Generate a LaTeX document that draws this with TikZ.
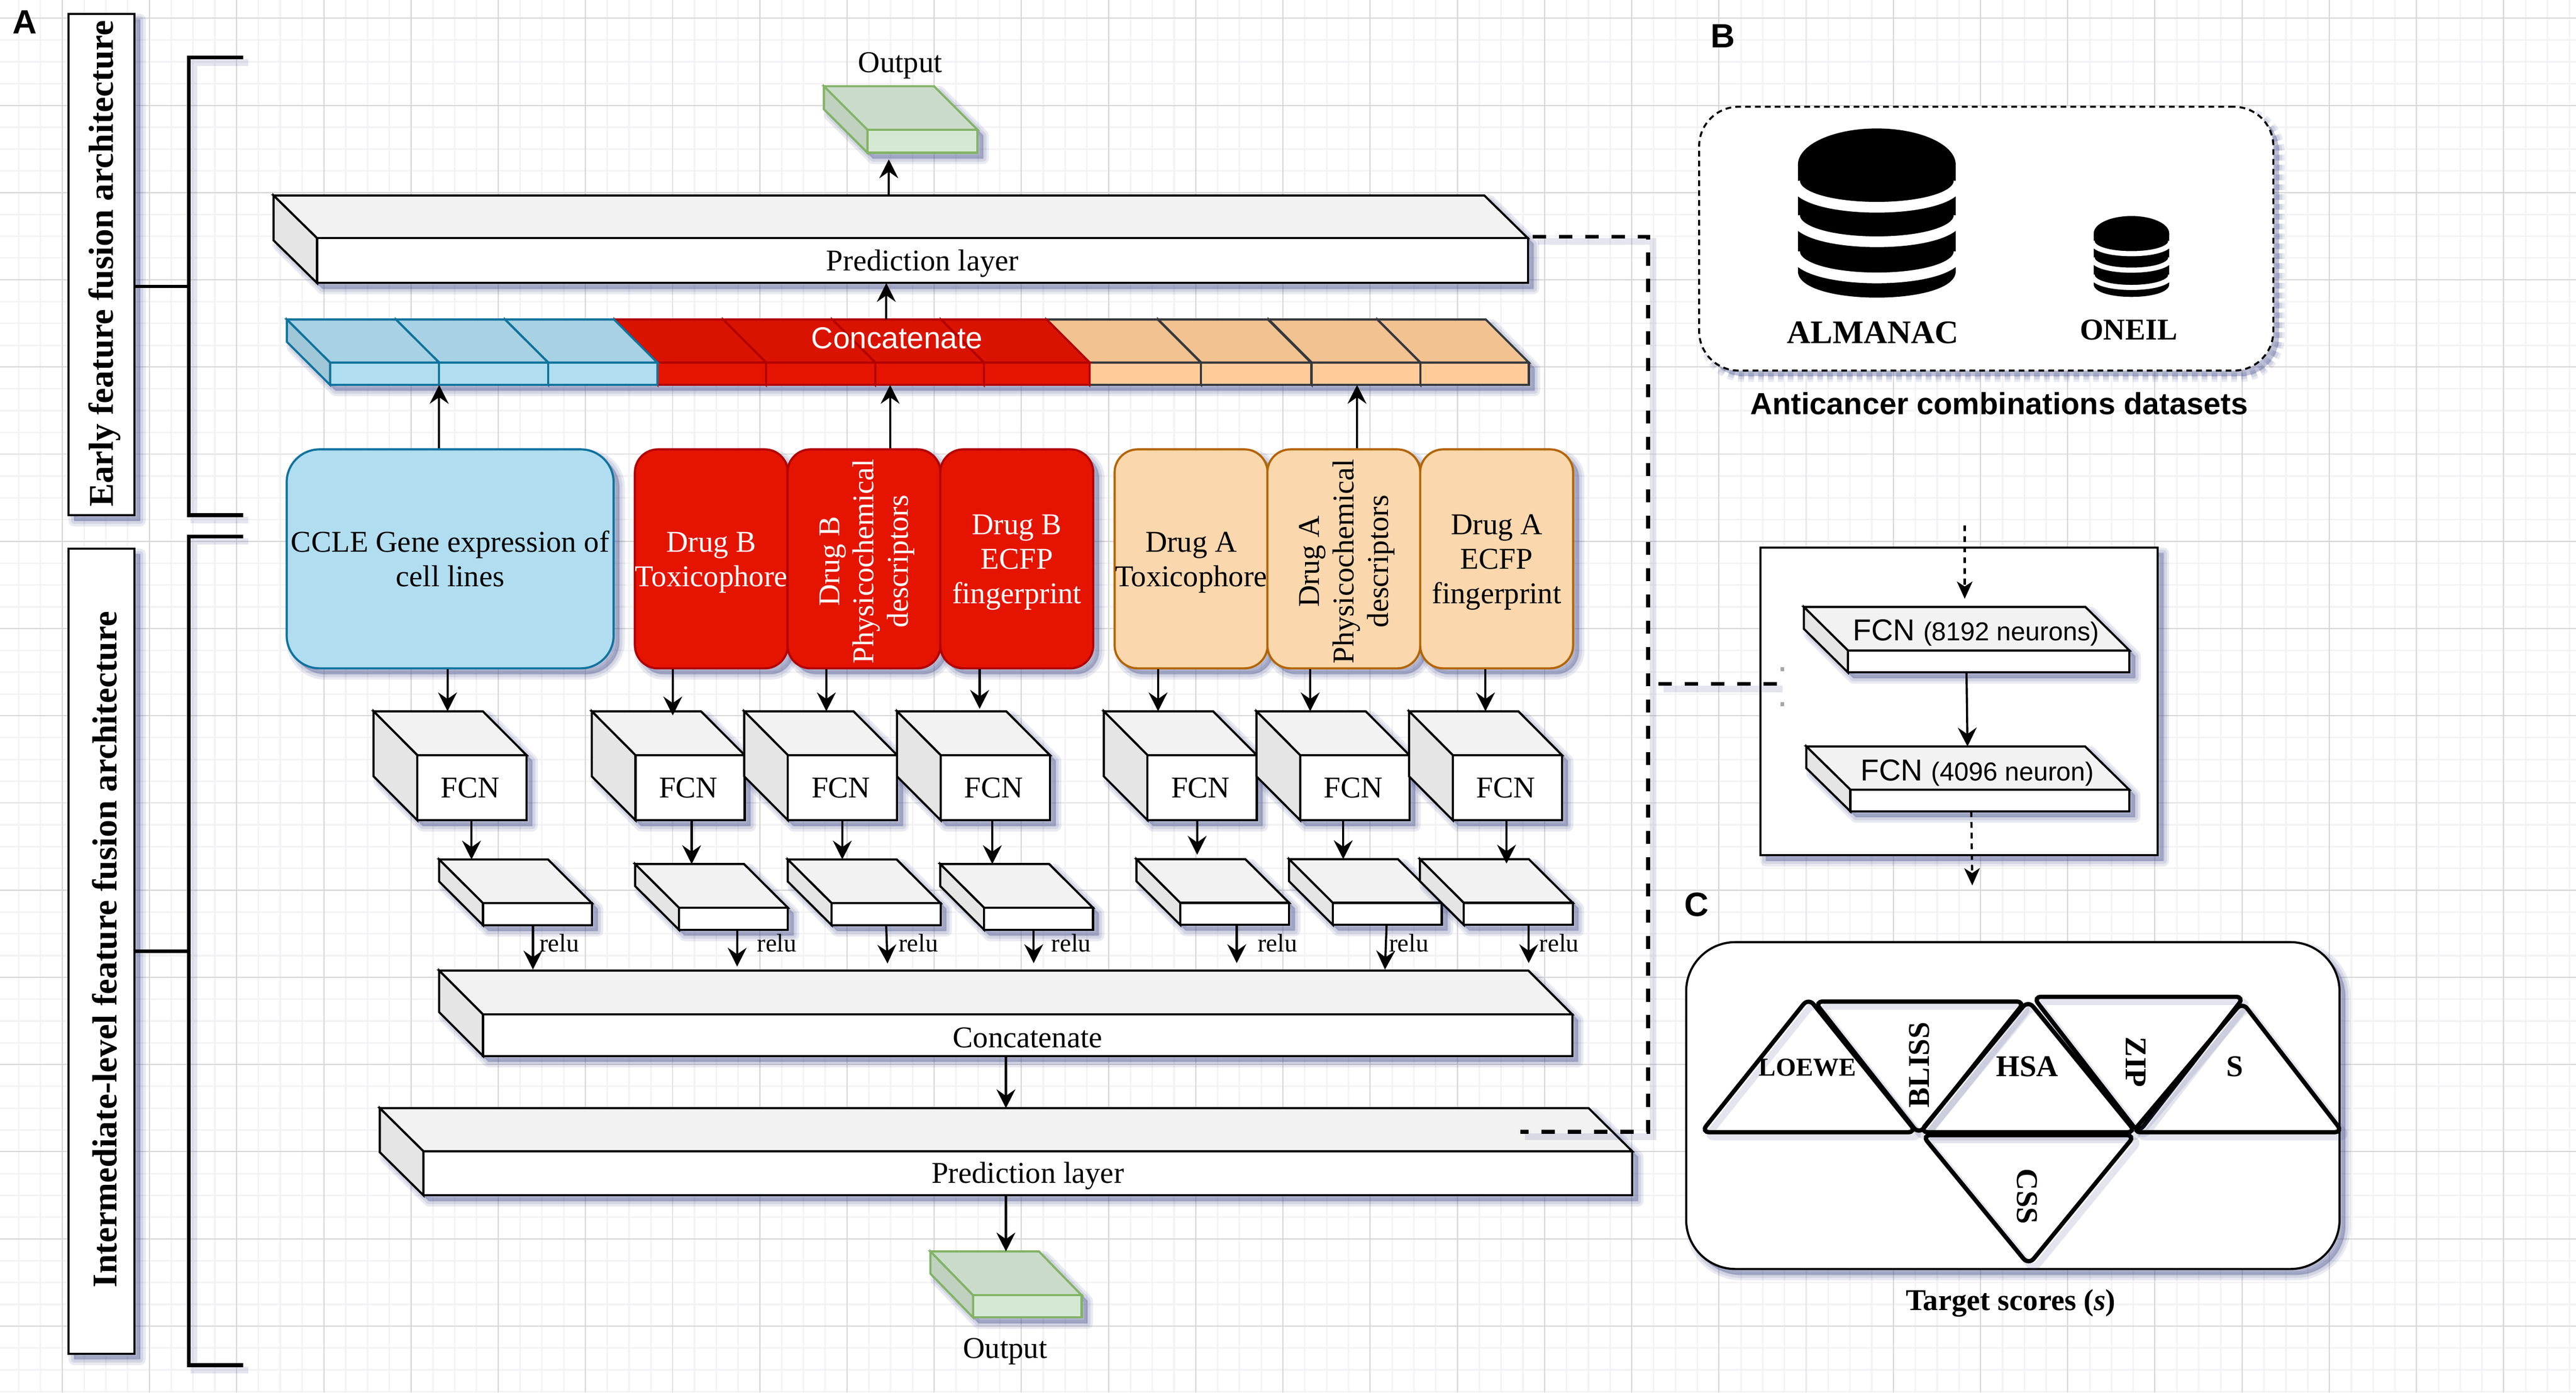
\documentclass[tikz,border=0pt]{standalone}
\usepackage{fontspec}
\setmainfont{Liberation Serif}
\setsansfont{Liberation Sans}
\usetikzlibrary{arrows.meta}

\definecolor{shadowcol}{rgb}{0.33,0.36,0.58}
\definecolor{gridmajor}{HTML}{D6D6D6}
\definecolor{gridminor}{HTML}{F3F3F5}
\definecolor{plainF}{HTML}{FFFFFF}
\definecolor{plainD}{HTML}{000000}
\definecolor{cellF}{HTML}{B1DDF0}
\definecolor{cellD}{HTML}{10739E}
\definecolor{drugbF}{HTML}{E51400}
\definecolor{drugbD}{HTML}{B20000}
\definecolor{drugaF}{HTML}{FAD7AC}
\definecolor{drugaD}{HTML}{B46504}
\definecolor{concF}{HTML}{FFCC99}
\definecolor{concD}{HTML}{36393D}
\definecolor{outF}{HTML}{D5E8D4}
\definecolor{outD}{HTML}{82B366}

\tikzset{
  softshadow/.style={
    preaction={draw=shadowcol,fill=shadowcol,line width=7pt,line join=round,opacity=.13,transform canvas={shift={(3.4pt,-3.4pt)}}},
    preaction={draw=shadowcol,fill=shadowcol,line width=4pt,line join=round,opacity=.15,transform canvas={shift={(3.4pt,-3.4pt)}}},
    preaction={draw=shadowcol,fill=shadowcol,line width=1pt,line join=round,opacity=.17,transform canvas={shift={(3.4pt,-3.4pt)}}}},
  lineshadow/.style={
    preaction={draw=shadowcol,line width=4pt,opacity=.16,transform canvas={shift={(3pt,-3pt)}}}},
  cubeface/.style={rectangle,inner sep=0pt,outer sep=0pt,line width=1.3pt},
  arr/.style={-{Stealth[length=11.5pt,width=11.5pt,inset=4pt]},line width=1.3pt},
  dasharr/.style={-{Stealth[length=10.5pt,width=9.5pt,inset=3pt]},line width=1.3pt,dash pattern=on 3.5pt off 3pt},
  linkdash/.style={line width=2.3pt,dash pattern=on 8pt off 8pt,lineshadow},
  bracket/.style={line width=2.3pt,line join=miter,lineshadow},
  sidebox/.style={rectangle,draw=black,fill=white,line width=1.3pt,inner sep=0pt,minimum width=40pt,softshadow},
  blockbox/.style={rectangle,rounded corners=14pt,line width=1.3pt,minimum width=93.1pt,minimum height=133.3pt,inner sep=0pt,align=center,softshadow},
  cellblock/.style={blockbox,fill=cellF,draw=cellD,rounded corners=20pt,minimum width=199pt},
  drugbblock/.style={blockbox,fill=drugbF,draw=drugbD,text=white},
  drugablock/.style={blockbox,fill=drugaF,draw=drugaD},
  panelbox/.style={rectangle,fill=white,draw=black,line width=1.3pt,inner sep=0pt,softshadow},
  triangle/.style={draw=black,line width=2.6pt,rounded corners=5pt,lineshadow},
  panelmark/.style={font=\sffamily\bfseries\fontsize{20.5}{24}\selectfont},
}

% x, y, w, h, dx, dy
\newcommand{\cubeshadow}[6]{
  \path[softshadow] (#1,#2) -- (#1+#3-#5,#2) -- (#1+#3,#2+#6) -- (#1+#3,#2+#4) -- (#1+#5,#2+#4) -- (#1,#2+#4-#6) -- cycle;
}
% [colour]{name}{x}{y}{w}{h}{dx}{dy}{text}
\newcommand{\cubefaces}[9][plain]{
  \draw[line width=1.3pt,draw=#1D,fill=black!5!#1F] (#3,#4) -- (#3+#5-#7,#4) -- (#3+#5,#4+#8) -- (#3+#7,#4+#8) -- cycle;
  \draw[line width=1.3pt,draw=#1D,fill=black!10!#1F] (#3,#4) -- (#3+#7,#4+#8) -- (#3+#7,#4+#6) -- (#3,#4+#6-#8) -- cycle;
  \node[cubeface,draw=#1D,fill=#1F,minimum width=#5-#7,minimum height=#6-#8] (#2) at (#3+0.5*#5+0.5*#7,#4+0.5*#6+0.5*#8) {#9};
  \coordinate (#2-t) at (#3+0.5*#5,#4);
}
\newcommand{\cubebox}[9][plain]{
  \cubeshadow{#3}{#4}{#5}{#6}{#7}{#8}
  \cubefaces[#1]{#2}{#3}{#4}{#5}{#6}{#7}{#8}{#9}
}
% cx, top, scale
\newcommand{\dbstack}[3]{
  \begin{scope}[shift={(#1,#2)},x=#3pt,y=-#3pt]
    \fill[black] (-48,22) -- (-48,87) .. controls (-48,108.3) and (48,108.3) .. (48,87) -- (48,22) -- cycle;
    \foreach \k in {32,53,75} {
      \draw[white,line width={6.5*#3}] (-50,\k) .. controls (-50,\k+21.3) and (50,\k+21.3) .. (50,\k);
    }
    \fill[black] (0,22) ellipse [x radius=48,y radius=22];
  \end{scope}
}
\newcommand{\lowtext}[1]{\raisebox{-1.6pt}[\height][\depth]{#1}}
\newcommand{\stacktext}[1]{\raisebox{-2pt}[\height][\depth]{\begin{tabular}{@{}c@{}}#1\end{tabular}}}
\newcommand{\physlabel}[1]{\hspace*{3.5pt}\raisebox{-1.5pt}[\height][\depth]{\rotatebox{90}{\begin{tabular}{@{}c@{}}Drug #1\\Physicochemical\\descriptors\end{tabular}}}}

\begin{document}
\begin{tikzpicture}[x=1pt,y=-1pt,every node/.style={font=\fontsize{18.4}{21}\selectfont}]
  \useasboundingbox (0,0) rectangle (1568,847.7);

  \foreach \i in {0,...,117} {
    \draw[gridminor,line width=1pt] ({11.36+13.27*\i},0) -- ({11.36+13.27*\i},847.7);
  }
  \foreach \i in {0,...,63} {
    \draw[gridminor,line width=1pt] (0,{11.1+13.27*\i}) -- (1568,{11.1+13.27*\i});
  }
  \foreach \i in {0,...,28} {
    \draw[gridmajor,line width=.6pt] ({37.9+53.07*\i},0) -- ({37.9+53.07*\i},847.7);
  }
  \foreach \i in {0,...,15} {
    \draw[gridmajor,line width=.6pt] (0,{11.1+53.07*\i}) -- (1568,{11.1+53.07*\i});
  }

  \node[panelmark] (markA) at (15.2,13.5) {A};
  \node[panelmark] (markB) at (1048.6,22) {B};
  \node[panelmark] (markC) at (1032.6,550.8) {C};

  \node[sidebox,minimum height=305.1pt] (earlyBox) at (61.8,161) {};
  \node[sidebox,minimum height=490pt] (interBox) at (61.8,579) {};
  \node[rotate=90,font=\fontsize{21.2}{24}\selectfont\bfseries] (earlyText) at (63.6,160.5) {Early feature fusion architecture};
  \node[rotate=90,font=\fontsize{21.2}{24}\selectfont\bfseries] (interText) at (63.6,578) {Intermediate-level feature fusion architecture};

  \coordinate (earlyMid) at (115,174.3);
  \coordinate (interMid) at (115,579);
  \draw[bracket] (148,35) -- (115,35) -- (115,313.6) -- (148,313.6);
  \draw[bracket] (148,326.6) -- (115,326.6) -- (115,831) -- (148,831);
  \draw[line width=2pt] (earlyMid -| earlyBox.east) -- (earlyMid);
  \draw[line width=2pt] (interMid -| interBox.east) -- (interMid);

  \cubebox[out]{outTop}{501.5}{52.5}{93.5}{40.5}{26.5}{26.5}{}
  \node (outTopText) at (548,40) {Output};
  \cubebox{predTop}{166.5}{119}{763.5}{53.3}{26.5}{26}{\lowtext{Prediction layer}}

  \path[softshadow] (174.6,194.5) -- (904.6,194.5) -- (930.6,220.7) -- (930.6,234.3) -- (200.9,234.3) -- (174.6,208) -- cycle;
  \foreach \nm/\x/\w in {barO4/838.4/92.2,barO3/772.2/92.3,barO2/704.9/93.1,barO1/636.8/94.1} {
    \cubefaces[conc]{\nm}{\x}{194.5}{\w}{39.8}{26.2}{26.2}{}
  }
  \foreach \nm/\x/\w in {barR4/572.6/90.7,barR3/506.4/92.6,barR2/440/92.9,barR1/374/92.3} {
    \cubefaces[drugb]{\nm}{\x}{194.5}{\w}{39.8}{26.2}{26.2}{}
  }
  \foreach \nm/\x in {barB3/307.4,barB2/241,barB1/174.6} {
    \cubefaces[cell]{\nm}{\x}{194.5}{92.7}{39.8}{26.3}{26.2}{}
  }
  \node[text=white,font=\sffamily\fontsize{18.4}{21}\selectfont] (barText) at (546,205.8) {Concatenate};

  \foreach \nm/\x/\sty/\txt in {
    ccle/274/cellblock/{CCLE Gene expression of\\cell lines},
    drugBa/433/drugbblock/{\stacktext{Drug B\\Toxicophore}},
    drugBb/525.9/drugbblock/{\physlabel{B}},
    drugBc/618.9/drugbblock/{\stacktext{Drug B\\ECFP\\fingerprint}},
    drugAa/725/drugablock/{\stacktext{Drug A\\Toxicophore}},
    drugAb/818/drugablock/{\physlabel{A}},
    drugAc/911/drugablock/{\stacktext{Drug A\\ECFP\\fingerprint}}} {
    \node[\sty] (\nm) at (\x,340.2) {\txt};
  }

  \foreach \nm/\x in {fcnA/227.4,fcnB/360.2,fcnC/453,fcnD/546,fcnE/671.9,fcnF/764.8,fcnG/857.7} {
    \cubebox{\nm}{\x}{433}{93.1}{66.3}{26.6}{26.7}{\hspace*{-2pt}FCN}
  }
  \foreach \nm/\x/\y in {relA/267.3/523.2,relB/386.6/526,relC/479.5/523.2,relD/572.3/526,relE/691.7/523,relF/784.6/523,relG/864.3/523} {
    \cubebox{\nm}{\x}{\y}{93}{40}{26.7}{26.6}{}
  }
  \foreach \nm/\x in {relTextA/340.4,relTextB/472.9,relTextC/559,relTextD/652,relTextE/777.7,relTextF/857.6,relTextG/949} {
    \node[font=\fontsize{15.5}{18}\selectfont] (\nm) at (\x,574) {relu};
  }

  \cubebox{concLow}{267.3}{590.8}{689.7}{52}{26.7}{26.7}{\lowtext{Concatenate}}
  \cubebox{predLow}{231.2}{674.6}{762.3}{53}{26.5}{26.2}{\lowtext{Prediction layer}}
  \cubebox[out]{outLow}{566.3}{761.8}{92.1}{40.2}{26}{26.7}{}
  \node (outLowText) at (611.8,822.7) {Output};

  \draw[arr,shorten >=4pt] (541,0 |- predTop-t) -- (541,0 |- outTop.south);
  \draw[arr] (539.5,0 |- barR3-t) -- (539.5,0 |- predTop.south);
  \draw[arr] (267.3,0 |- ccle.north) -- (267.3,0 |- barB2.south);
  \draw[arr] (541.8,0 |- drugBb.north) -- (541.8,0 |- barR3.south);
  \draw[arr] (826,0 |- drugAb.north) -- (826,0 |- barO3.south);
  \foreach \a/\x/\b/\s in {ccle/272.4/fcnA/0,drugBa/409.5/fcnB/-2.5,drugBb/503/fcnC/0,drugBc/596.3/fcnD/1.5,drugAa/704.9/fcnE/0,drugAb/797.5/fcnF/0,drugAc/904.2/fcnG/0,
    fcnA/287/relA/0,fcnB/421/relB/0,fcnC/512.7/relC/0,fcnD/604/relD/0,fcnE/728.7/relE/2.7,fcnF/817.6/relF/0,fcnG/917/relG/-2.7} {
    \draw[arr,shorten >=\s pt] (\x,0 |- \a.south) -- (\x,0 |- \b-t);
  }
  \foreach \a/\x/\xb/\s in {relA/324.4/324.4/0.6,relB/448.7/448.7/2.4,relC/539.4/540.4/4.3,relD/629.2/629.2/4.5,relE/752.8/752.8/4.5,relF/844/843/0.6,relG/930.5/930.5/4.5} {
    \draw[arr,shorten >=\s pt] (\x,0 |- \a.south) -- (\xb,0 |- concLow-t);
  }
  \draw[arr] (612.3,0 |- concLow.south) -- (612.3,0 |- predLow-t);
  \draw[arr] (612.3,0 |- predLow.south) -- (612.3,0 |- outLow-t);

  \coordinate (linkStart) at (933,144);
  \coordinate (linkTop) at (1003.2,144);
  \coordinate (linkBot) at (1003.2,689);
  \coordinate (linkEnd) at (925.3,689);
  \draw[linkdash] (linkStart) -- (linkTop) -- (linkBot) -- (linkEnd);

  \node[panelbox,rounded corners=24pt,dash pattern=on 3.5pt off 2.5pt,line width=1.2pt,minimum width=349.5pt,minimum height=160.6pt] (panelB) at (1209,145.3) {};
  \dbstack{1142.4}{78.2}{1}
  \dbstack{1297.4}{131.5}{0.478}
  \node[font=\bfseries\fontsize{20}{24}\selectfont] (almanac) at (1140,202.5) {ALMANAC};
  \node[font=\bfseries\fontsize{18.4}{21}\selectfont] (oneil) at (1295.7,200.7) {ONEIL};
  \node[font=\sffamily\bfseries\fontsize{18.6}{21}\selectfont] (panelBText) at (1216.9,245.5) {Anticancer combinations datasets};

  \node[panelbox,minimum width=241.9pt,minimum height=187.2pt] (fcnPanel) at (1192.5,426.9) {};
  \cubebox{fcnUp}{1098}{369.5}{198.2}{39.8}{26.8}{26.5}{}
  \cubebox{fcnDown}{1099.5}{454.4}{196.5}{39.5}{26.8}{26.3}{}
  \node[font=\sffamily\fontsize{18.4}{21}\selectfont] (fcnUpText) at (1202.8,385.2) {FCN {\fontsize{15.8}{18}\selectfont(8192 neurons)}};
  \node[font=\sffamily\fontsize{18.4}{21}\selectfont] (fcnDownText) at (1203.6,470.5) {FCN {\fontsize{15.8}{18}\selectfont(4096 neuron)}};
  \coordinate (fcnIn) at (1195.9,319.8);
  \coordinate (fcnOut) at (1200.5,539);
  \draw[dasharr,shorten >=5pt] (fcnIn) -- (fcnIn |- fcnUp-t);
  \draw[arr] (1197,0 |- fcnUp.south) -- (1197.6,0 |- fcnDown-t);
  \draw[dasharr] (1199.9,0 |- fcnDown.south) -- (fcnOut);

  \coordinate (linkFrom) at (1009.5,416.4);
  \coordinate (linkTo) at (1082,416.4);
  \draw[linkdash] (linkFrom) -- (linkTo);
  \fill[gray!70] (1083.7,406.1) rectangle (1086,408.7);
  \fill[gray!70] (1083.7,427.4) rectangle (1086,430);

  \node[panelbox,rounded corners=30pt,minimum width=397.7pt,minimum height=199pt] (panelC) at (1225.2,673) {};
  \foreach \ax/\ay/\bx/\by/\cx/\cy in {
    1035.5/689.2/1100.8/607.5/1166.5/689.2,
    1104.5/609.7/1232.5/609.7/1168/690.5,
    1168.5/689.2/1234.5/609/1300/689.2,
    1237.5/606.8/1366/606.8/1301.6/689.5,
    1298/689.2/1364.8/610/1426/689.2,
    1170/691/1299.5/691/1234.8/770} {
    \draw[triangle] (\ax,\ay) -- (\bx,\by) -- (\cx,\cy) -- cycle;
  }
  \node[font=\bfseries\fontsize{15.7}{18}\selectfont] (loewe) at (1100.2,649.9) {LOEWE};
  \node[font=\bfseries\fontsize{18.4}{21}\selectfont] (hsa) at (1234,649.3) {HSA};
  \node[font=\bfseries\fontsize{18.4}{21}\selectfont] (sscore) at (1360.2,649.2) {S};
  \node[font=\bfseries\fontsize{18.4}{21}\selectfont,rotate=90] (bliss) at (1168.4,648.2) {BLISS};
  \node[font=\bfseries\fontsize{18.4}{21}\selectfont,rotate=-90] (zip) at (1300,646.6) {ZIP};
  \node[font=\bfseries\fontsize{18.4}{21}\selectfont,rotate=-90] (css) at (1234,728.4) {CSS};
  \node[font=\bfseries\fontsize{18.4}{21}\selectfont] (panelCText) at (1223.9,793.3) {Target scores (\textit{s})};
\end{tikzpicture}
\end{document}
